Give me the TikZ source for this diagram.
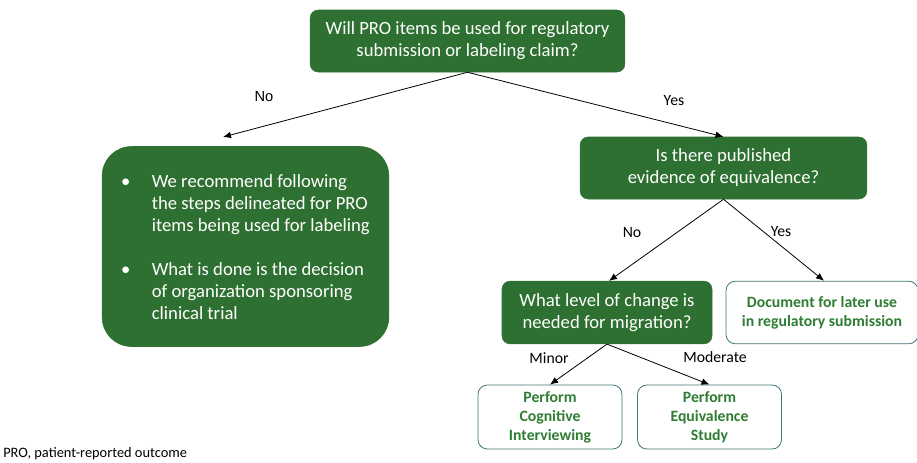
\documentclass[tikz,border=0pt]{standalone}
\usepackage{fontspec}
\setmainfont{Carlito}
\newfontfamily\arialfont{Liberation Sans}
\usepackage{tikz}
\usetikzlibrary{positioning,arrows.meta}
\definecolor{DeepGreen}{HTML}{2E7031}
\definecolor{EdgeTeal}{HTML}{3F7777}
\definecolor{LabelGreen}{HTML}{2E7D32}
\tikzset{
  qbox/.style={draw=DeepGreen,fill=DeepGreen,rounded corners=6pt,
    font=\fontsize{14}{16.5}\selectfont\color{white},
    align=center,inner sep=2pt},
  outbox/.style={draw=EdgeTeal,fill=white,rounded corners=7pt,line width=0.6pt,
    font=\fontsize{11.8}{14.25}\selectfont\bfseries\color{LabelGreen},
    align=center,inner sep=2pt},
  flow/.style={-{Latex[length=6pt,width=5pt]},line width=0.6pt,draw=black},
  lbl/.style={font=\fontsize{11.8}{13}\selectfont,inner sep=0pt},
}

\begin{document}
\begin{tikzpicture}[x=0.75pt,y=-0.75pt]
  \useasboundingbox (0,0) rectangle (917,462);
  % Questions
  \node[qbox,minimum width=236pt,minimum height=46.5pt] (use) at (467.5,41)
    {Will PRO items be used for regulatory\\submission or labeling claim?};
  \node[qbox,minimum width=215pt,minimum height=46.5pt] (evid) at (723.5,168)
    {Is there published\\evidence of equivalence?};
  \node[qbox,minimum width=157.5pt,minimum height=47pt] (level) at (607,312.5)
    {What level of change is\\needed for migration?};
  % Recommendation box (bullets set as a two-column table)
  \node[qbox,rounded corners=22pt,minimum width=215pt,minimum height=150pt,
    inner sep=0pt] (rec) at (245.5,246.5)
    {\begin{tabular}{@{\hspace{8pt}}l@{\hspace{16pt}}l@{\hspace{8pt}}}
     \textbullet & We recommend following\\
                 & the steps delineated for PRO\\
                 & items being used for labeling\\[16.5pt]
     \textbullet & What is done is the decision\\
                 & of organization sponsoring\\
                 & clinical trial
     \end{tabular}\\[-4.5pt]};
  % Outcomes
  \node[outbox,minimum width=144pt,minimum height=47pt] (doc) at (822,312.5)
    {Document for later use\\in regulatory submission};
  \node[outbox,minimum width=108pt,minimum height=48pt] (cogn) at (550,417)
    {Perform\\Cognitive\\Interviewing};
  \node[outbox,minimum width=108pt,minimum height=48pt] (equi) at (709.5,417)
    {Perform\\Equivalence\\Study};
  % Free arrow end above the recommendation box
  \coordinate (recin) at (223,137);
  % Connectors
  \draw[flow] (use.south) -- (recin);
  \draw[flow] (use.south) -- (evid.north);
  \draw[flow] (evid.south) -- ([xshift=1.5pt]level.north);
  \draw[flow] (evid.south) -- ([xshift=1.5pt]doc.north);
  \draw[flow] (level.south) -- (cogn.north);
  \draw[flow] (level.south) -- (equi.north);
  % Branch labels
  \node[lbl,font=\fontsize{11}{13}\selectfont\arialfont] (lno) at (264,97) {No};
  \node[lbl] (lyes) at (674,101) {Yes};
  \node[lbl] (eno) at (632,232) {No};
  \node[lbl] (eyes) at (781,232) {Yes};
  \node[lbl] (lmin) at (549,358) {Minor};
  \node[lbl] (lmod) at (715,357) {Moderate};
  % Footnote
  \node[anchor=west,inner sep=0pt,font=\fontsize{10.8}{12}\selectfont] (foot) at (3,454)
    {PRO, patient-reported outcome};
\end{tikzpicture}
\end{document}
